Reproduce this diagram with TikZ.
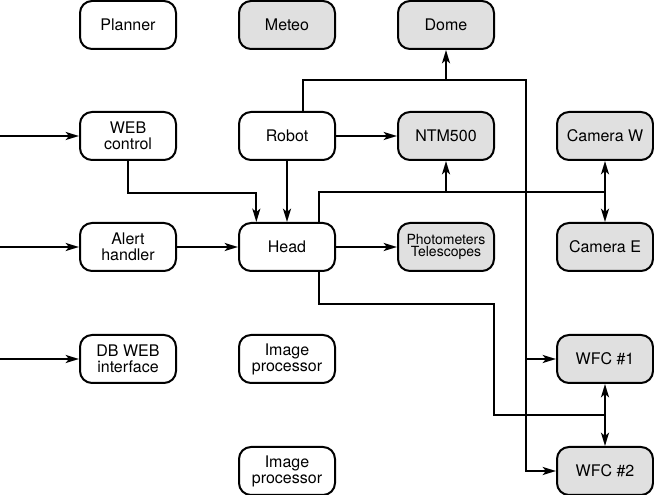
\documentclass[tikz,border=0pt]{standalone}
\usepackage{fontspec}
\setmainfont{TeX Gyre Heros}
\usetikzlibrary{arrows.meta}

\begin{document}
\begin{tikzpicture}[x=0.75pt, y=-0.75pt, line width=1.5pt,
		>={Stealth[length=10pt, width=6pt, inset=2.5pt]},
		unit/.style={draw, rounded corners=9pt, minimum width=72pt, minimum height=36pt,
			align=center, inner sep=1pt, font=\fontsize{12}{12}\selectfont},
		dev/.style={unit, fill=black!12}]

	\useasboundingbox (0,0) rectangle (654,495);

	% --- Logiciels ---
	\node[unit] (planner) at (128,25) {Planner};
	\node[unit] (web) at (128,136) {WEB\\control};
	\node[unit] (alert) at (128,247) {Alert\\handler};
	\node[unit] (db) at (128,359) {DB WEB\\interface};
	\node[unit] (robot) at (287,136) {Robot};
	\node[unit] (head) at (287,247) {Head};
	\node[unit] (imgA) at (287,359) {Image\\processor};
	\node[unit] (imgB) at (287,471) {Image\\processor};

	% --- Materiel ---
	\node[dev] (meteo) at (287,25) {Meteo};
	\node[dev] (dome) at (446,25) {Dome};
	\node[dev] (ntm) at (446,136) {NTM500};
	\node[dev, font=\fontsize{10.5}{9.5}\selectfont] (phot) at (446,247) {Photometers\\Telescopes};
	\node[dev] (camw) at (605,136) {Camera W};
	\node[dev] (came) at (605,247) {Camera E};
	\node[dev] (wfcA) at (605,359) {WFC \#1};
	\node[dev] (wfcB) at (605,471) {WFC \#2};

	% Entrees externes
	\coordinate (inweb) at (0,136);
	\coordinate (inalert) at (0,247);
	\coordinate (indb) at (0,359);
	\draw[->] (inweb) -- (web);
	\draw[->] (inalert) -- (alert);
	\draw[->] (indb) -- (db);

	% Vers Head
	\draw[->] (alert) -- (head);
	\draw[->] (robot) -- (head);
	\draw[->] (web.south) -- ++(0,32) -| ([xshift=-23pt]head.north);

	% Robot
	\coordinate (robotbus) at (526,80);
	\draw[->] (robot) -- (ntm);
	\draw[->] ([xshift=12pt]robot.north) |- (robotbus) |- (wfcB.west);
	\draw[->] (robotbus |- wfcA.west) -- (wfcA.west);
	\draw[->] (dome.south |- robotbus) -- (dome.south);

	% Head
	\coordinate (headbus) at (605,192);
	\coordinate (wfcbus) at (605,415);
	\draw[->] (head) -- (phot);
	\draw ([xshift=24pt]head.north) |- (headbus);
	\draw[->] (ntm.south |- headbus) -- (ntm.south);
	\draw[<->] (camw) -- (came);
	\draw ([xshift=24pt]head.south) -- ++(0,32) -| (494,415) -- (wfcbus);
	\draw[<->] (wfcA) -- (wfcB);
\end{tikzpicture}
\end{document}
